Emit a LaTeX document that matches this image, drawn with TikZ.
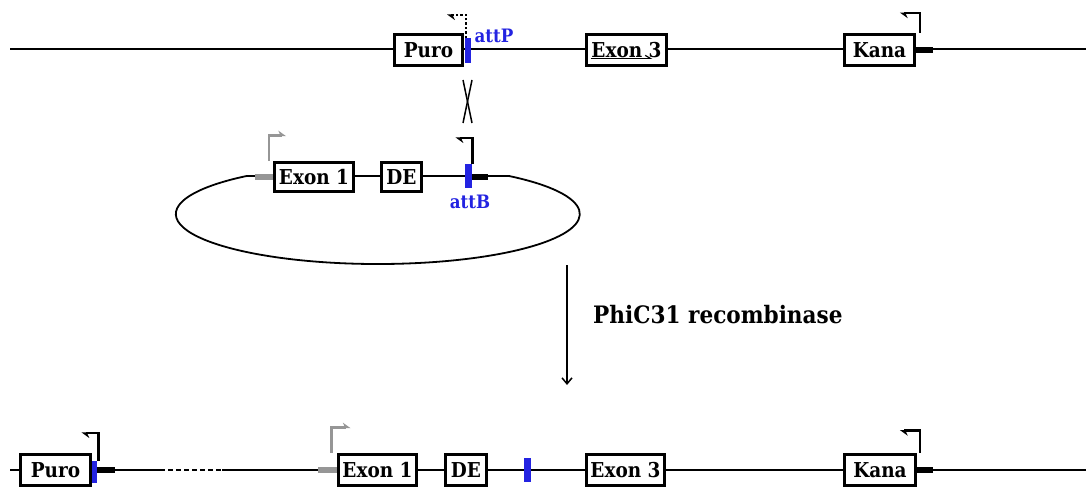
\documentclass[tikz,border=0pt]{standalone}
\usepackage{fontspec}
\setmainfont{DejaVu Serif}[FakeStretch=0.9]
\usetikzlibrary{arrows.meta}
\definecolor{mblue}{RGB}{35,35,225}
\definecolor{mgray}{RGB}{150,150,150}
\begin{document}
\begin{tikzpicture}[x=1pt,y=-1pt,
  gene/.style={draw, line width=3.7pt, fill=white, minimum height=31pt, inner sep=0pt,
    font=\fontsize{20.5}{22}\selectfont\bfseries},
  backbone/.style={line width=1.8pt},
  bar/.style={draw=none, inner sep=0pt, outer sep=0pt},
  attbar/.style={bar, fill=mblue},
  termbar/.style={bar, fill=black},
  graybar/.style={bar, fill=mgray},
  prom/.style={line width=2.4pt, -{Stealth[harpoon,length=7pt,width=10pt]}},
  attlabel/.style={text=mblue, font=\fontsize{18.5}{20}\selectfont\bfseries, inner sep=0pt}
]
\useasboundingbox (0,0) rectangle (1086,492);

% ---------------- top row ----------------
\coordinate (tl) at (10,49);
\coordinate (tr) at (1086,49);
\draw[backbone] (tl) -- (tr);
\node[gene, minimum width=68pt] (purot) at (428.5,50) {Puro};
\node[gene, minimum width=80pt] (ex3t) at (626.5,50) {Exon 3};
\node[gene, minimum width=70pt] (kanat) at (879.5,50) {Kana};
\node[attbar, minimum width=6pt, minimum height=25pt] (attP) at (468,50.5) {};
\node[termbar, minimum width=17pt, minimum height=6pt] (kbart) at (924.5,50) {};
\node[attlabel, anchor=base] (attPl) at (494,43) {attP};
\draw[line width=1.2pt, -{Straight Barb[harpoon,length=5pt,width=6pt]}]
  ([shift={(6,-9)}]ex3t.south west) -- ([shift={(-16,-9)}]ex3t.south east);
\draw[prom, dotted] ([xshift=-2pt]attP.north) |- ++(-19,-23);
\draw[prom] ([xshift=3.5pt]kanat.north east) |- ++(-20,-19.5);

% ---------------- crossover ----------------
\coordinate (xa) at (463,80);
\coordinate (xb) at (472,123);
\coordinate (xc) at (472,80);
\coordinate (xd) at (463,123);
\draw[line width=1.5pt] (xa) -- (xb);
\draw[line width=1.5pt] (xc) -- (xd);

% ---------------- plasmid ----------------
\draw[backbone] (509,176) arc[start angle=-49.5, end angle=229.5, x radius=202, y radius=50] -- cycle;
\node[graybar, minimum width=18pt, minimum height=6pt] (gbarm) at (264,176.5) {};
\node[gene, minimum width=79pt, minimum height=29pt] (ex1m) at (314,177) {Exon 1};
\node[gene, minimum width=40pt, minimum height=29pt] (dem) at (401.5,177) {DE};
\node[attbar, minimum width=7pt, minimum height=24pt] (attB) at (468.5,176) {};
\node[termbar, minimum width=16pt, minimum height=6pt] (tbarm) at (480,176.5) {};
\node[attlabel, anchor=base] (attBl) at (470,208) {attB};
\draw[prom, mgray] ([xshift=-3.5pt]ex1m.north west) |- ++(17,-25);
\draw[prom] ([xshift=4pt]attB.north) |- ++(-17,-26);

% ---------------- recombination arrow ----------------
\coordinate (da) at (567,265);
\coordinate (db) at (567,385);
\draw[line width=1.5pt, -{Straight Barb[length=6pt,width=10pt]}] (da) -- (db);
\node[anchor=base west, inner sep=0pt, font=\fontsize{24}{26}\selectfont\bfseries] (phi) at (593,323) {PhiC31 recombinase};

% ---------------- bottom row ----------------
\coordinate (bl) at (10,470);
\coordinate (d1) at (160,470);
\coordinate (d2) at (222,470);
\coordinate (br) at (1086,470);
\draw[backbone] (bl) -- (d1);
\draw[backbone, dash pattern=on 5pt off 3pt] (d1) -- (d2);
\draw[backbone] (d2) -- (br);
\node[gene, minimum width=70pt] (purob) at (55.5,470) {Puro};
\node[attbar, minimum width=5.5pt, minimum height=22pt] (attLb) at (94.5,472) {};
\node[termbar, minimum width=18pt, minimum height=6pt] (tbarb) at (106,470) {};
\node[graybar, minimum width=19pt, minimum height=6pt] (gbarb) at (327.5,470) {};
\node[gene, minimum width=78pt] (ex1b) at (377.5,470) {Exon 1};
\node[gene, minimum width=41pt] (deb) at (466,470) {DE};
\node[attbar, minimum width=7pt, minimum height=24pt] (attRb) at (527.5,470) {};
\node[gene, minimum width=78pt] (ex3b) at (625.5,470) {Exon 3};
\node[gene, minimum width=71pt] (kanab) at (880,470) {Kana};
\node[termbar, minimum width=16pt, minimum height=6pt] (kbarb) at (925,470) {};
\draw[prom] ([xshift=4pt]attLb.north) |- ++(-17,-28);
\draw[prom, mgray] ([xshift=-5pt]ex1b.north west) |- ++(19,-25);
\draw[prom] ([xshift=2.5pt]kanab.north east) |- ++(-20,-22);
\end{tikzpicture}
\end{document}
